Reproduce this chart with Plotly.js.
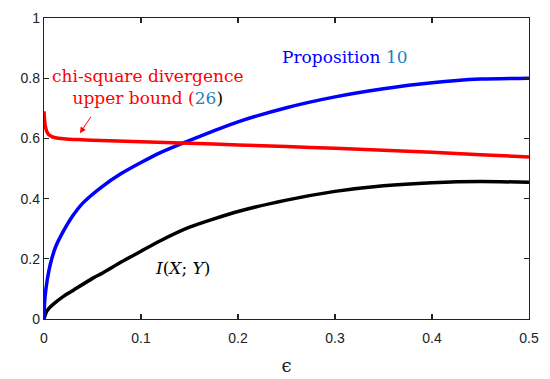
<!DOCTYPE html>
<html>
<head>
<meta charset="utf-8">
<script src="https://cdn.plot.ly/plotly-3.0.1.min.js"></script>
<style>html,body{margin:0;padding:0;background:#fff;}#chart{width:550px;height:379px;}</style>
</head>
<body>
<div id="chart"></div>
<script>
// epsilon values and curves
const chiX = [0, 0.0005, 0.001, 0.002, 0.003, 0.005, 0.008, 0.012, 0.02, 0.035, 0.05, 0.1, 0.15, 0.2, 0.25, 0.3, 0.35, 0.4, 0.45, 0.5];
const chiY = [0.69, 0.665, 0.648, 0.632, 0.622, 0.612, 0.606, 0.602, 0.599, 0.596, 0.594, 0.589, 0.584, 0.578, 0.573, 0.567, 0.561, 0.554, 0.546, 0.538];

const propX = [0, 0.0005, 0.002, 0.005, 0.008, 0.012, 0.02, 0.03, 0.04, 0.06, 0.08, 0.1, 0.12, 0.145, 0.175, 0.2, 0.25, 0.3, 0.35, 0.4, 0.45, 0.5];
const propY = [0, 0.05, 0.1, 0.16, 0.2, 0.24, 0.292, 0.345, 0.385, 0.44, 0.484, 0.52, 0.553, 0.587, 0.625, 0.655, 0.702, 0.738, 0.765, 0.785, 0.797, 0.8];

const miX = [0, 0.002, 0.005, 0.01, 0.02, 0.03, 0.05, 0.06, 0.08, 0.1, 0.12, 0.15, 0.2, 0.25, 0.3, 0.35, 0.4, 0.45, 0.5];
const miY = [0, 0.02, 0.035, 0.05, 0.075, 0.095, 0.135, 0.152, 0.19, 0.225, 0.26, 0.305, 0.357, 0.395, 0.424, 0.443, 0.453, 0.457, 0.454];

const xTicks = [0, 0.1, 0.2, 0.3, 0.4, 0.5];
const xTickText = ['0', '0.1', '0.2', '0.3', '0.4', '0.5'];
const yTicks = [0, 0.2, 0.4, 0.6, 0.8, 1];
const yTickText = ['0', '0.2', '0.4', '0.6', '0.8', '1'];

const serif = 'DejaVu Serif';
const sans = 'Liberation Sans';
const teal = '#1f7fc0';

const traces = [
  {x: miX, y: miY, mode: 'lines', line: {color: '#000000', width: 3.5, shape: 'spline', smoothing: 0.6}, hoverinfo: 'skip'},
  {x: propX, y: propY, mode: 'lines', line: {color: '#0000ff', width: 3.5, shape: 'spline', smoothing: 0.6}, hoverinfo: 'skip'},
  {x: chiX, y: chiY, mode: 'lines', line: {color: '#ff0000', width: 3.5, shape: 'spline', smoothing: 0.6}, hoverinfo: 'skip'}
];

const axisCommon = {
  showgrid: false, zeroline: false, showline: true, mirror: 'ticks',
  linecolor: '#222', linewidth: 1.2, ticks: 'inside', ticklen: 5, tickwidth: 1.2, tickcolor: '#222',
  tickfont: {family: sans, size: 14, color: '#222'}
};

const layout = {
  width: 550, height: 379,
  margin: {l: 44, r: 21, t: 18, b: 60},
  paper_bgcolor: '#fff', plot_bgcolor: '#fff',
  showlegend: false,
  xaxis: Object.assign({}, axisCommon, {
    range: [0, 0.5], tickvals: xTicks, ticktext: xTickText, ticklabelstandoff: 6,
    title: {text: 'ϵ', font: {family: serif, size: 18, color: '#222'}, standoff: 14}
  }),
  yaxis: Object.assign({}, axisCommon, {
    range: [0, 1], tickvals: yTicks, ticktext: yTickText
  }),
  annotations: [
    {x: 0.107, y: 0.772, xref: 'x', yref: 'y', showarrow: false,
     text: 'chi-square divergence<br>upper bound (<span style="color:' + teal + '">26</span><span style="color:#000">)</span>',
     font: {family: serif, size: 17, color: '#ff0000'}, align: 'center'},
    {x: 0.037, y: 0.617, ax: 12, ay: -18, xref: 'x', yref: 'y', text: '', showarrow: true,
     arrowhead: 2, arrowsize: 1.2, arrowwidth: 1, arrowcolor: '#ff0000'},
    {x: 0.31, y: 0.87, xref: 'x', yref: 'y', showarrow: false,
     text: 'Proposition <span style="color:' + teal + '">10</span>',
     font: {family: serif, size: 17, color: '#0000ff'}},
    {x: 0.143, y: 0.168, xref: 'x', yref: 'y', showarrow: false,
     text: '<i>I</i>(<i>X</i>; <i>Y</i>)',
     font: {family: serif, size: 17, color: '#000'}}
  ]
};

Plotly.newPlot('chart', traces, layout, {staticPlot: true, displayModeBar: false});
</script>
</body>
</html>
